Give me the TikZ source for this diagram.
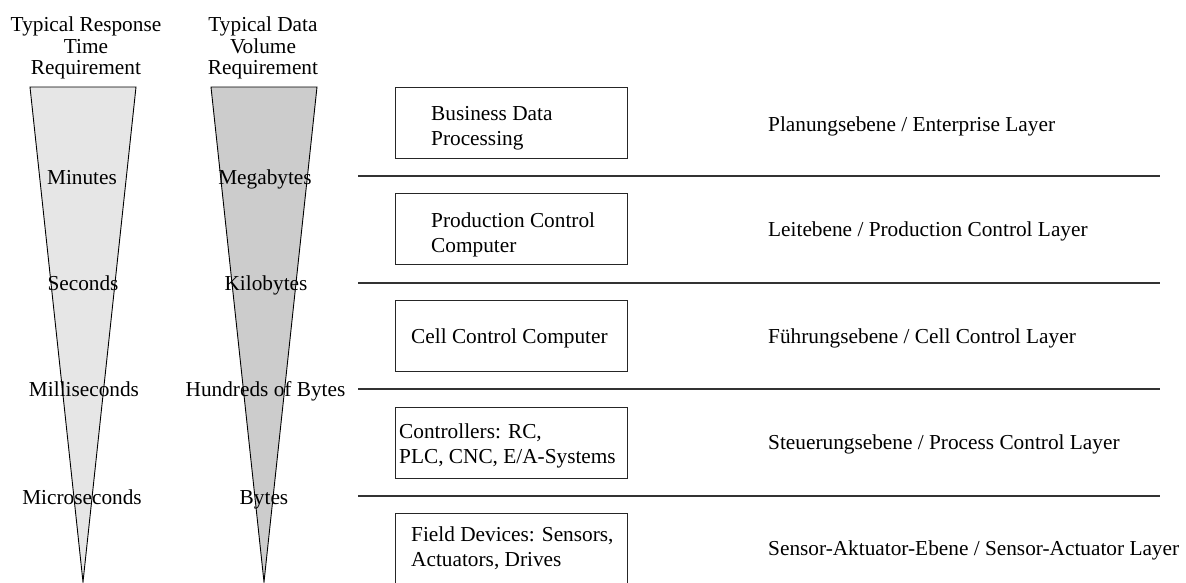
\documentclass[tikz,border=0pt]{standalone}
\usepackage{fontspec}
\setmainfont{Liberation Serif}
\definecolor{lightfill}{RGB}{230,230,230}
\definecolor{darkfill}{RGB}{204,204,204}
\begin{document}
\begin{tikzpicture}[x=1pt,y=-1pt,
  every node/.style={font=\fontsize{21.3}{25}\selectfont, inner sep=0pt},
  wedge/.style={draw=black, line width=0.9pt, line join=miter},
  layerbox/.style={draw=black!85, line width=1pt, minimum width=232pt, minimum height=71pt, anchor=north west},
  sepline/.style={draw=black!80, line width=1.1pt},
  title/.style={align=center, font=\fontsize{21.3}{21.5}\selectfont},
  boxtext/.style={anchor=west, align=left},
  layertext/.style={anchor=base west},
  wlabel/.style={anchor=base}
]
\useasboundingbox (0,0) rectangle (1186,582);
\clip (0,0) rectangle (1186,582);

% wedges
\draw[wedge, fill=lightfill] (30,87) -- (136,87) -- (83,582) -- cycle;
\draw[wedge, fill=darkfill] (211,87) -- (317,87) -- (264,582) -- cycle;

% titles
\node[title] (t1) at (86,48) {Typical Response\\Time\\Requirement};
\node[title] (t2) at (263,48) {Typical Data\\Volume\\Requirement};

% separators
\foreach \y/\n in {176/a,283/b,389/c,496/d}{
  \coordinate (s\n l) at (358,\y);
  \coordinate (s\n r) at (1160,\y);
  \draw[sepline] (s\n l) -- (s\n r);
}

% wedge labels
\node[wlabel] (m1) at (82,184) {Minutes};
\node[wlabel] (m2) at (265,184) {Megabytes};
\node[wlabel] (s1) at (83,290) {Seconds};
\node[wlabel] (s2) at (266,290) {Kilobytes};
\node[wlabel] (ms1) at (84,396) {Milliseconds};
\node[wlabel] (ms2) at (265.5,396) {Hundreds of Bytes};
\node[wlabel] (us1) at (82,504) {Microseconds};
\node[wlabel] (us2) at (264,504) {Bytes};

% boxes
\node[layerbox] (b1) at (395,87) {};
\node[layerbox] (b2) at (395,193) {};
\node[layerbox] (b3) at (395,300) {};
\node[layerbox] (b4) at (395,407) {};
\node[layerbox, minimum height=120pt] (b5) at (395,513) {};

\node[boxtext] (bt1) at (431,128) {Business Data\\Processing};
\node[boxtext] (bt2) at (431,235) {Production Control\\Computer};
\node[boxtext] (bt3) at (411,338) {Cell Control Computer};
\node[boxtext] (bt4) at (399,445.5) {Controllers: RC,\\PLC, CNC, E/A-Systems};
\node[boxtext] (bt5) at (411,548.5) {Field Devices: Sensors,\\Actuators, Drives};

% layer names
\node[layertext] (l1) at (768,131) {Planungsebene / Enterprise Layer};
\node[layertext] (l2) at (768,236) {Leitebene / Production Control Layer};
\node[layertext] (l3) at (768,343) {Führungsebene / Cell Control Layer};
\node[layertext] (l4) at (768,449) {Steuerungsebene / Process Control Layer};
\node[layertext] (l5) at (768,555) {Sensor-Aktuator-Ebene / Sensor-Actuator Layer};
\end{tikzpicture}
\end{document}
